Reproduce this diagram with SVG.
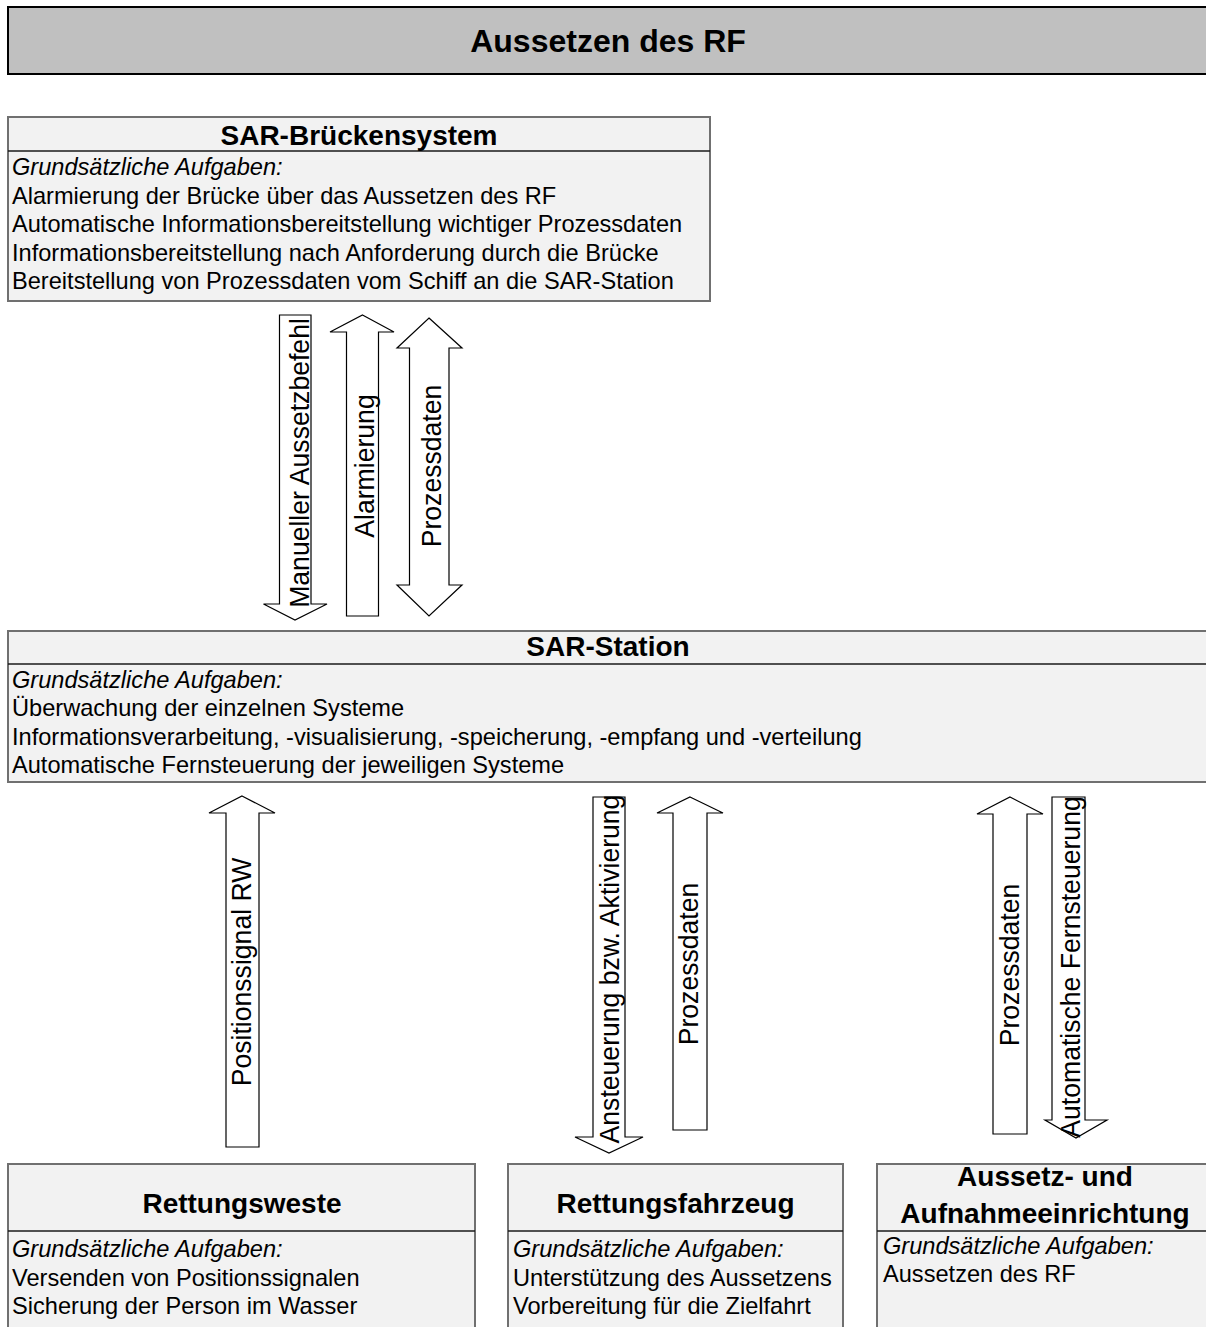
<svg xmlns="http://www.w3.org/2000/svg" width="1206" height="1327" viewBox="0 0 1206 1327">
<style>
text{font-family:"Liberation Sans",Arial,sans-serif;fill:#000}
.hdr{fill:#c0c0c0;stroke:#000;stroke-width:2}
.box{fill:#f2f2f2;stroke:#707070;stroke-width:2}
.div{stroke:#1a1a1a;stroke-width:1.5}
.ttl{font-size:28px;font-weight:bold;text-anchor:middle}
.big{font-size:32px;font-weight:bold;text-anchor:middle}
.bd{font-size:23.6px}
.it{font-size:23.6px;font-style:italic}
.arr{fill:#fff;stroke:#000;stroke-width:1.2;stroke-linejoin:miter}
.rl{font-size:28px;text-anchor:middle}
</style>
<g id="header">
<rect class="hdr" x="8" y="7" width="1210" height="67"/>
<text class="big" x="608" y="52">Aussetzen des RF</text>
</g>
<g id="sar-brueckensystem">
<rect class="box" x="8" y="117" width="702" height="184"/>
<line class="div" x1="8" y1="151" x2="710" y2="151"/>
<text class="ttl" x="359" y="145">SAR-Brückensystem</text>
<text class="it" x="12" y="175">Grundsätzliche Aufgaben:</text>
<text class="bd" x="12" y="203.5">Alarmierung der Brücke über das Aussetzen des RF</text>
<text class="bd" x="12" y="232">Automatische Informationsbereitstellung wichtiger Prozessdaten</text>
<text class="bd" x="12" y="260.5">Informationsbereitstellung nach Anforderung durch die Brücke</text>
<text class="bd" x="12" y="289">Bereitstellung von Prozessdaten vom Schiff an die SAR-Station</text>
</g>
<g id="sar-station">
<rect class="box" x="8" y="631" width="1210" height="151"/>
<line class="div" x1="8" y1="664" x2="1218" y2="664"/>
<text class="ttl" x="608" y="656">SAR-Station</text>
<text class="it" x="12" y="688">Grundsätzliche Aufgaben:</text>
<text class="bd" x="12" y="716">Überwachung der einzelnen Systeme</text>
<text class="bd" x="12" y="744.5">Informationsverarbeitung, -visualisierung, -speicherung, -empfang und -verteilung</text>
<text class="bd" x="12" y="773">Automatische Fernsteuerung der jeweiligen Systeme</text>
</g>
<g id="rettungsweste">
<rect class="box" x="8" y="1164" width="467" height="200"/>
<line class="div" x1="8" y1="1231" x2="475" y2="1231"/>
<text class="ttl" x="242" y="1213">Rettungsweste</text>
<text class="it" x="12" y="1257">Grundsätzliche Aufgaben:</text>
<text class="bd" x="12" y="1285.5">Versenden von Positionssignalen</text>
<text class="bd" x="12" y="1314">Sicherung der Person im Wasser</text>
</g>
<g id="rettungsfahrzeug">
<rect class="box" x="508" y="1164" width="335" height="200"/>
<line class="div" x1="508" y1="1231" x2="843" y2="1231"/>
<text class="ttl" x="675.5" y="1213">Rettungsfahrzeug</text>
<text class="it" x="513" y="1257">Grundsätzliche Aufgaben:</text>
<text class="bd" x="513" y="1285.5">Unterstützung des Aussetzens</text>
<text class="bd" x="513" y="1314">Vorbereitung für die Zielfahrt</text>
</g>
<g id="aussetzeinrichtung">
<rect class="box" x="877" y="1164" width="340" height="200"/>
<line class="div" x1="877" y1="1231" x2="1217" y2="1231"/>
<text class="ttl" x="1045" y="1186">Aussetz- und</text>
<text class="ttl" x="1045" y="1223">Aufnahmeeinrichtung</text>
<text class="it" x="883" y="1254">Grundsätzliche Aufgaben:</text>
<text class="bd" x="883" y="1282">Aussetzen des RF</text>
</g>
<g id="connectors">
<polygon class="arr" points="279.5,315 311,315 311,604 327,604 295,620 263.5,604 279.5,604"/>
<text class="rl" transform="translate(308.5,463) rotate(-90) scale(0.95,1)">Manueller Aussetzbefehl</text>
<polygon class="arr" points="362.5,315 394,332 378.5,332 378.5,616 346.5,616 346.5,332 330,332"/>
<text class="rl" transform="translate(373.5,466) rotate(-90) scale(0.95,1)">Alarmierung</text>
<polygon class="arr" points="429,318 462,348 449,348 449,585 462,585 429,616 397,585 409.5,585 409.5,348 397,348"/>
<text class="rl" transform="translate(441,466) rotate(-90) scale(0.95,1)">Prozessdaten</text>
<polygon class="arr" points="242,796 275,813 259,813 259,1147 226,1147 226,813 209,813"/>
<text class="rl" transform="translate(251,972) rotate(-90) scale(0.95,1)">Positionssignal RW</text>
<polygon class="arr" points="593,797 625,797 625,1137 643,1137 609,1153 575,1137 593,1137"/>
<text class="rl" transform="translate(619,969) rotate(-90) scale(0.95,1)">Ansteuerung bzw. Aktivierung</text>
<polygon class="arr" points="690,797 723,813 707,813 707,1130 673,1130 673,813 657,813"/>
<text class="rl" transform="translate(697.5,964) rotate(-90) scale(0.95,1)">Prozessdaten</text>
<polygon class="arr" points="1010,797 1043,814 1027,814 1027,1134 993,1134 993,814 977,814"/>
<text class="rl" transform="translate(1019,965) rotate(-90) scale(0.95,1)">Prozessdaten</text>
<polygon class="arr" points="1052,797 1085,797 1085,1120 1107,1120 1076,1138 1045,1120 1052,1120"/>
<text class="rl" transform="translate(1080,967) rotate(-90) scale(0.95,1)">Automatische Fernsteuerung</text>
</g>
</svg>
